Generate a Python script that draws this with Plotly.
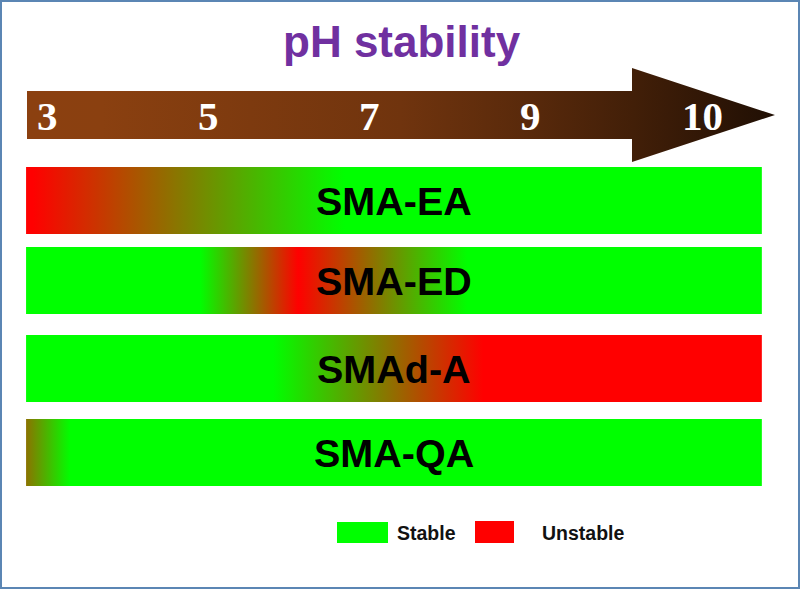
import plotly.graph_objects as go

# ---------------- data ----------------
samples = ["SMA-EA", "SMA-ED", "SMAd-A", "SMA-QA"]
# gradient stops along the pH scale (0 = stable / green, 1 = unstable / red)
ea_ph = [2.74, 2.82, 6.70, 11.88]
ea_unstable = [1.0, 1.0, 0.0, 0.0]
ed_ph = [2.74, 4.90, 6.12, 8.22, 11.88]
ed_unstable = [0.0, 0.0, 1.0, 0.0, 0.0]
da_ph = [2.74, 5.81, 8.42, 11.88]
da_unstable = [0.0, 0.0, 1.0, 1.0]
qa_ph = [2.74, 3.29, 11.88]
qa_unstable = [0.55, 0.0, 0.0]

tick_labels = ["3", "5", "7", "9", "10"]
tick_ph = [3, 5, 7, 9, 11.14]
legend_labels = ["Stable", "Unstable"]

stops_ph = [ea_ph, ed_ph, da_ph, qa_ph]
stops_val = [ea_unstable, ed_unstable, da_unstable, qa_unstable]

# ---------------- layout helpers ----------------
W, H = 800, 589
PX_PER_PH = 80.5
X0 = 3 - 47 / PX_PER_PH
X1 = X0 + W / PX_PER_PH


def px2ph(p):
    return X0 + p / PX_PER_PH


def rg(v):
    return "rgb(%d,%d,0)" % (round(255 * v), round(255 * (1 - v)))


GREEN = "rgb(0,255,0)"
RED = "rgb(255,0,0)"

row_top = [167, 247, 335, 419]
row_h = 67

fig = go.Figure()

# arrow
ax = [27, 632, 632, 775, 632, 632, 27, 27]
ay = [91, 91, 68, 115, 162, 139, 139, 91]
fig.add_trace(go.Scatter(
    x=[px2ph(p) for p in ax], y=ay, mode="lines", fill="toself",
    line=dict(width=0, color="rgba(0,0,0,0)"), hoverinfo="skip",
    fillgradient=dict(
        type="horizontal", start=px2ph(27), stop=px2ph(775),
        colorscale=[[0.0, "rgb(139,64,16)"], [0.1, "rgb(138,64,16)"],
                    [0.5, "rgb(112,52,14)"], [0.675, "rgb(88,41,11)"],
                    [0.81, "rgb(66,31,8)"], [1.0, "rgb(32,15,4)"]]),
))

# bars
for i, name in enumerate(samples):
    phs, vals = stops_ph[i], stops_val[i]
    s, e = phs[0], phs[-1]
    cs = [[(p - s) / (e - s), rg(v)] for p, v in zip(phs, vals)]
    y0, y1 = row_top[i], row_top[i] + row_h
    fig.add_trace(go.Scatter(
        x=[s, e, e, s, s], y=[y0, y0, y1, y1, y0], mode="lines", fill="toself",
        line=dict(width=0, color="rgba(0,0,0,0)"), hoverinfo="skip",
        fillgradient=dict(type="horizontal", start=s, stop=e, colorscale=cs),
    ))
    fig.add_annotation(
        x=px2ph(394), y=y0 + row_h / 2, text=name, showarrow=False,
        xanchor="center", yanchor="middle",
        font=dict(family="Liberation Sans, Arial", size=39.5, color="black", weight="bold"),
    )

# tick labels on the arrow
for t, p in zip(tick_labels, tick_ph):
    fig.add_annotation(
        x=p, y=115.5, text=t, showarrow=False, xanchor="center", yanchor="middle",
        font=dict(family="Liberation Serif, Times New Roman", size=41, color="white", weight="bold"),
    )

# title
fig.add_annotation(
    x=px2ph(401.5), y=41, text="pH stability", showarrow=False,
    xanchor="center", yanchor="middle",
    font=dict(family="Liberation Sans, Arial", size=44, color="#7030A0", weight="bold"),
)

# legend
fig.add_shape(type="rect", x0=px2ph(337), x1=px2ph(388), y0=522, y1=543,
              fillcolor=GREEN, line=dict(width=0))
fig.add_shape(type="rect", x0=px2ph(475), x1=px2ph(514), y0=521, y1=543,
              fillcolor=RED, line=dict(width=0))
for lab, cx in zip(legend_labels, [426, 583.5]):
    fig.add_annotation(
        x=px2ph(cx), y=533, text=lab, showarrow=False, xanchor="center", yanchor="middle",
        font=dict(family="Liberation Sans, Arial", size=19.5, color="#111111", weight="bold"),
    )

# frame
fig.add_shape(type="rect", xref="paper", yref="paper", x0=0, x1=1, y0=0, y1=1,
              line=dict(color="#5b86b4", width=4), fillcolor="rgba(0,0,0,0)")

fig.update_layout(
    width=W, height=H, margin=dict(l=0, r=0, t=0, b=0),
    paper_bgcolor="white", plot_bgcolor="white", showlegend=False,
    xaxis=dict(range=[X0, X1], visible=False, fixedrange=True),
    yaxis=dict(range=[H, 0], visible=False, fixedrange=True),
)

fig.write_html(
    "out.html",
    config={"displayModeBar": False, "staticPlot": True},
    post_script="document.body.style.margin='0';document.body.style.padding='0';"
                "document.body.style.overflow='hidden';",
)
